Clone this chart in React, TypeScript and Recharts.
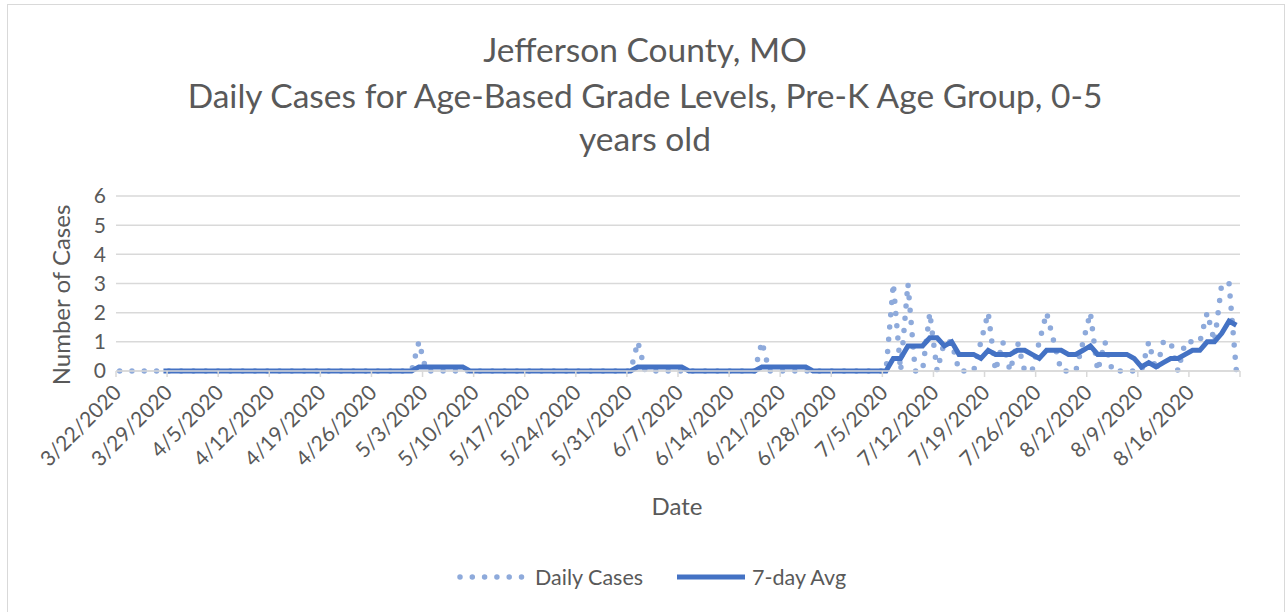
import { LineChart, Line, XAxis, YAxis, CartesianGrid, Legend } from "recharts"

// daily counts, one row per week starting Sunday 3/22/2020
const dailyCases = [
  0, 0, 0, 0, 0, 0, 0,
  0, 0, 0, 0, 0, 0, 0,
  0, 0, 0, 0, 0, 0, 0,
  0, 0, 0, 0, 0, 0, 0,
  0, 0, 0, 0, 0, 0, 0,
  0, 0, 0, 0, 0, 0, 1,
  0, 0, 0, 0, 0, 0, 0,
  0, 0, 0, 0, 0, 0, 0,
  0, 0, 0, 0, 0, 0, 0,
  0, 0, 0, 0, 0, 0, 0,
  0, 1, 0, 0, 0, 0, 0,
  0, 0, 0, 0, 0, 0, 0,
  0, 0, 0, 0, 1, 0, 0,
  0, 0, 0, 0, 0, 0, 0,
  0, 0, 0, 0, 0, 0, 0,
  0, 3, 0, 3, 0, 0, 2,
  0, 1, 1, 0, 0, 0, 1,
  2, 0, 1, 0, 1, 0, 0,
  1, 2, 1, 0, 0, 0, 1,
  2, 0, 1, 0, 0, 0, 0,
  0, 1, 0, 1, 1, 0, 1,
  1, 1, 2, 1, 3, 3, 0,
]

// 7-day average as shown on the chart
const sevenDayAvg = [
  null, null, null, null, null, null, 0,
  0, 0, 0, 0, 0, 0, 0,
  0, 0, 0, 0, 0, 0, 0,
  0, 0, 0, 0, 0, 0, 0,
  0, 0, 0, 0, 0, 0, 0,
  0, 0, 0, 0, 0, 0, 0.14,
  0.14, 0.14, 0.14, 0.14, 0.14, 0.14, 0,
  0, 0, 0, 0, 0, 0, 0,
  0, 0, 0, 0, 0, 0, 0,
  0, 0, 0, 0, 0, 0, 0,
  0, 0.14, 0.14, 0.14, 0.14, 0.14, 0.14,
  0.14, 0, 0, 0, 0, 0, 0,
  0, 0, 0, 0, 0.14, 0.14, 0.14,
  0.14, 0.14, 0.14, 0.14, 0, 0, 0,
  0, 0, 0, 0, 0, 0, 0,
  0, 0.43, 0.43, 0.86, 0.86, 0.86, 1.14,
  1.14, 0.86, 1, 0.57, 0.57, 0.57, 0.43,
  0.71, 0.57, 0.57, 0.57, 0.71, 0.71, 0.57,
  0.43, 0.71, 0.71, 0.71, 0.57, 0.57, 0.71,
  0.86, 0.57, 0.57, 0.57, 0.57, 0.57, 0.43,
  0.14, 0.29, 0.14, 0.29, 0.43, 0.43, 0.57,
  0.71, 0.71, 1, 1, 1.29, 1.71, 1.57,
]

const tickLabels = [
  "3/22/2020", "3/29/2020", "4/5/2020", "4/12/2020", "4/19/2020", "4/26/2020",
  "5/3/2020", "5/10/2020", "5/17/2020", "5/24/2020", "5/31/2020", "6/7/2020",
  "6/14/2020", "6/21/2020", "6/28/2020", "7/5/2020", "7/12/2020", "7/19/2020",
  "7/26/2020", "8/2/2020", "8/9/2020", "8/16/2020", "",
]
const yTicks = [0, 1, 2, 3, 4, 5, 6]

const dates = dailyCases.map((_, i) => {
  const d = new Date(2020, 2, 22 + i)
  return `${d.getMonth() + 1}/${d.getDate()}/${d.getFullYear()}`
})

const data = dailyCases.map((v, i) => ({
  day: i + 0.5,
  date: dates[i],
  daily: v,
  avg: sevenDayAvg[i],
}))

const xTicks = tickLabels.map((_, i) => i * 7)

const FONT = "Lato, 'Open Sans', sans-serif"
const TEXT = "#595959"
const GRID = "#d9d9d9"
const DAILY = "#8eaadb"
const AVG = "#4472c4"

const W = 1274
const H = 620
const HALF_DAY = 1124 / 154 / 2
const LEGEND_H = 30

function DateTick({ x, y, index }: any) {
  const label = tickLabels[index] ?? ""
  return (
    <g transform={`translate(${x + HALF_DAY + 3},${y + 15})`}>
      <text x={0} y={0} textAnchor="end" transform="rotate(-45)" fill={TEXT} fontSize={21} fontFamily={FONT}>
        {label}
      </text>
    </g>
  )
}

function LegendContent() {
  return (
    <div style={{ height: LEGEND_H, display: "flex", alignItems: "center", paddingLeft: 449, fontFamily: FONT, fontSize: 21.5, color: TEXT }}>
      <svg width={72} height={12} style={{ marginRight: 6 }}>
        <line x1={3} y1={6} x2={66} y2={6} stroke={DAILY} strokeWidth={5.5} strokeDasharray="0 12.3" strokeLinecap="round" />
      </svg>
      <span style={{ marginRight: 34 }}>Daily Cases</span>
      <svg width={68} height={12} style={{ marginRight: 7 }}>
        <line x1={0} y1={6} x2={68} y2={6} stroke={AVG} strokeWidth={5} />
      </svg>
      <span>7-day Avg</span>
    </div>
  )
}

export default function App() {
  return (
    <div style={{ position: "absolute", left: 7, top: 4, width: W + 2, height: H + 2, border: `1px solid ${GRID}`, background: "#fff" }}>
      <div style={{ position: "absolute", left: 0, width: W, top: 21, textAlign: "center", fontFamily: FONT, fontSize: 33.5, color: TEXT, lineHeight: "46px" }}>
        <div>Jefferson County, MO</div>
        <div>Daily Cases for Age-Based Grade Levels, Pre-K Age Group, 0-5</div>
        <div style={{ marginTop: -3 }}>years old</div>
      </div>
      <LineChart width={W} height={H} data={data} margin={{ top: 191, right: 42, left: 58, bottom: 144 - LEGEND_H }}>
        <CartesianGrid vertical={false} stroke={GRID} strokeWidth={1.5} />
        <XAxis
          dataKey="day"
          type="number"
          domain={[0, 154]}
          ticks={xTicks}
          interval={0}
          height={110}
          stroke={GRID}
          strokeWidth={1.5}
          tickSize={6}
          tick={<DateTick />}
        />
        <YAxis
          domain={[0, 6]}
          ticks={yTicks}
          interval={0}
          width={50}
          axisLine={false}
          tickLine={false}
          tickSize={0}
          tickMargin={10}
          tick={{ fill: TEXT, fontSize: 21, fontFamily: FONT }}
        />
        <Legend content={<LegendContent />} wrapperStyle={{ top: 557, left: 0, width: W }} />
        <Line
          dataKey="daily"
          type="linear"
          stroke={DAILY}
          strokeWidth={5.5}
          strokeDasharray="0 12.3"
          strokeLinecap="round"
          dot={false}
          activeDot={false}
          isAnimationActive={false}
          name="Daily Cases"
        />
        <Line
          dataKey="avg"
          type="linear"
          stroke={AVG}
          strokeWidth={5}
          dot={false}
          activeDot={false}
          connectNulls={false}
          isAnimationActive={false}
          name="7-day Avg"
        />
      </LineChart>
      <div style={{ position: "absolute", left: 669 - 60, width: 120, top: 486, textAlign: "center", fontFamily: FONT, fontSize: 24, color: TEXT, lineHeight: "30px" }}>
        Date
      </div>
      <div
        style={{
          position: "absolute",
          left: 53 - 110,
          top: 290 - 15,
          width: 220,
          textAlign: "center",
          fontFamily: FONT,
          fontSize: 24,
          color: TEXT,
          transform: "rotate(-90deg)",
          lineHeight: "30px",
        }}
      >
        Number of Cases
      </div>
    </div>
  )
}
